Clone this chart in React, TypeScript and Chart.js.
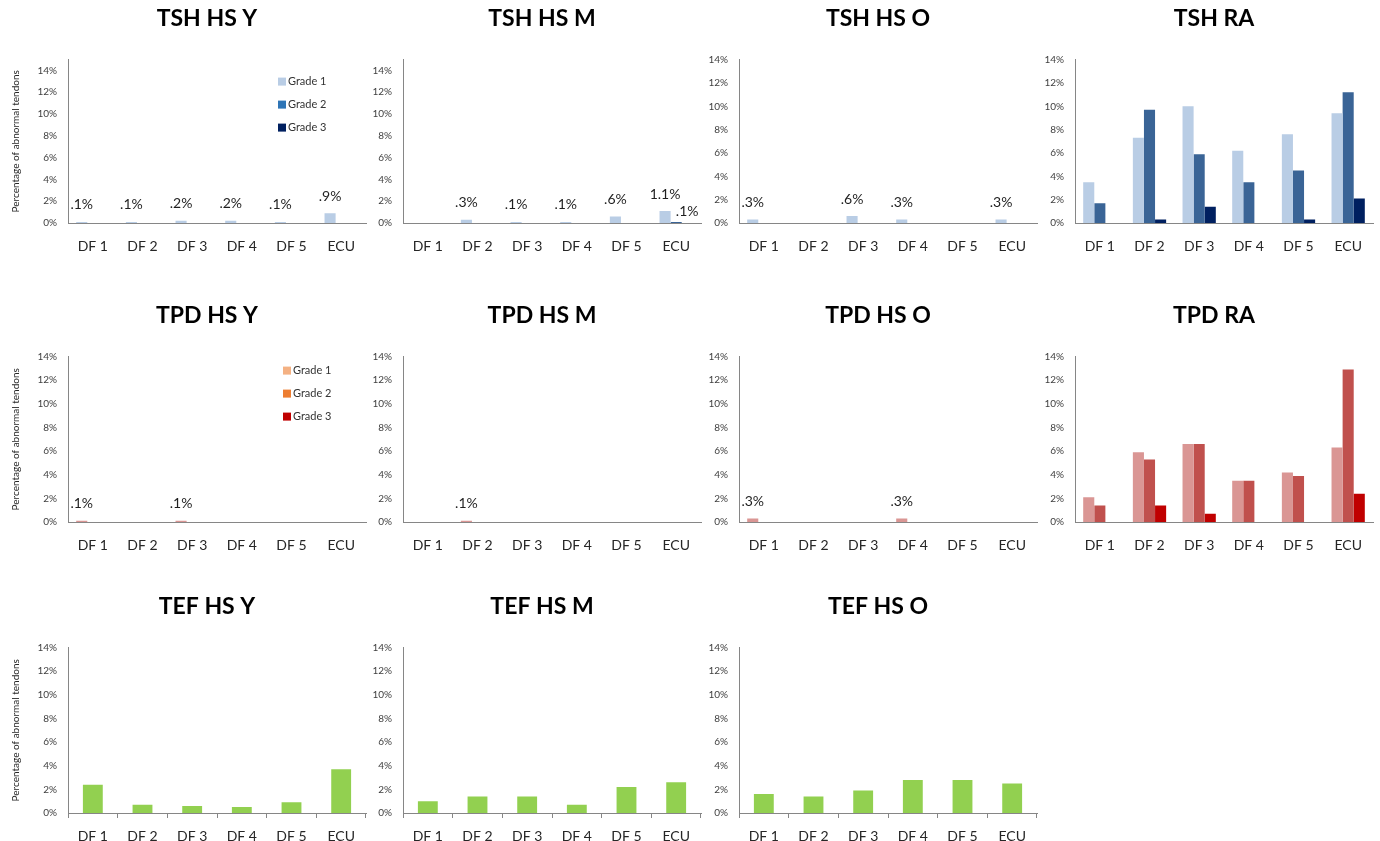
import React, { useEffect, useRef } from 'react';
import { Chart, registerables } from 'chart.js';

Chart.register(...registerables);
Chart.defaults.font.family = 'Lato, "Open Sans", sans-serif';

// ---------- data ----------
const categories = ['DF 1', 'DF 2', 'DF 3', 'DF 4', 'DF 5', 'ECU'];
const gradeLabels = ['Grade 1', 'Grade 2', 'Grade 3'];
const tefLabel = 'Abnormal';
const yTickValues = [0, 2, 4, 6, 8, 10, 12, 14];
const yAxisTitle = 'Percentage of abnormal tendons';

const titles = [
  'TSH HS Y', 'TSH HS M', 'TSH HS O', 'TSH RA',
  'TPD HS Y', 'TPD HS M', 'TPD HS O', 'TPD RA',
  'TEF HS Y', 'TEF HS M', 'TEF HS O',
];

const tshHsYGrade1 = [0.1, 0.1, 0.2, 0.2, 0.1, 0.9];
const tshHsYGrade2 = [0, 0, 0, 0, 0, 0];
const tshHsYGrade3 = [0, 0, 0, 0, 0, 0];

const tshHsMGrade1 = [0, 0.3, 0.1, 0.1, 0.6, 1.1];
const tshHsMGrade2 = [0, 0, 0, 0, 0, 0.1];
const tshHsMGrade3 = [0, 0, 0, 0, 0, 0];

const tshHsOGrade1 = [0.3, 0, 0.6, 0.3, 0, 0.3];
const tshHsOGrade2 = [0, 0, 0, 0, 0, 0];
const tshHsOGrade3 = [0, 0, 0, 0, 0, 0];

const tshRaGrade1 = [3.5, 7.3, 10.0, 6.2, 7.6, 9.4];
const tshRaGrade2 = [1.7, 9.7, 5.9, 3.5, 4.5, 11.2];
const tshRaGrade3 = [0, 0.3, 1.4, 0, 0.3, 2.1];

const tpdHsYGrade1 = [0.1, 0, 0.1, 0, 0, 0];
const tpdHsYGrade2 = [0, 0, 0, 0, 0, 0];
const tpdHsYGrade3 = [0, 0, 0, 0, 0, 0];

const tpdHsMGrade1 = [0, 0.1, 0, 0, 0, 0];
const tpdHsMGrade2 = [0, 0, 0, 0, 0, 0];
const tpdHsMGrade3 = [0, 0, 0, 0, 0, 0];

const tpdHsOGrade1 = [0.3, 0, 0, 0.3, 0, 0];
const tpdHsOGrade2 = [0, 0, 0, 0, 0, 0];
const tpdHsOGrade3 = [0, 0, 0, 0, 0, 0];

const tpdRaGrade1 = [2.1, 5.9, 6.6, 3.5, 4.2, 6.3];
const tpdRaGrade2 = [1.4, 5.3, 6.6, 3.5, 3.9, 12.9];
const tpdRaGrade3 = [0, 1.4, 0.7, 0, 0, 2.4];

const tefHsY = [2.4, 0.7, 0.6, 0.5, 0.9, 3.7];
const tefHsM = [1.0, 1.4, 1.4, 0.7, 2.2, 2.6];
const tefHsO = [1.6, 1.4, 1.9, 2.8, 2.8, 2.5];

// ---------- styles ----------
const tshBarColors = ['#B9CDE5', '#3A6496', '#002060'];
const tpdBarColors = ['#DA9694', '#C0504D', '#C00000'];
const tshLegendColors = ['#B9CDE5', '#2E75B6', '#002060'];
const tpdLegendColors = ['#F4B183', '#ED7D31', '#C00000'];
const tefColor = '#92D050';
const axisColor = '#868686';

const plotLefts = [68, 403, 739, 1075];
const rowTops = [0, 297, 588];
const rowHeights = [263, 265, 265];
const Y_AXIS_W = 68;
const PLOT_W = 298;
const CANVAS_W = 414;

type PanelDef = {
  title: string;
  row: number;
  col: number;
  series: number[][];
  colors: string[];
  yMax: number;
  showValues: boolean;
  single?: boolean;
  legend?: { x: number; y: number; colors: string[] };
  nudges?: Record<string, [number, number]>;
};

const panels: PanelDef[] = [
  { title: titles[0], row: 0, col: 0, series: [tshHsYGrade1, tshHsYGrade2, tshHsYGrade3], colors: tshBarColors, yMax: 15, showValues: true, legend: { x: 210, y: 22, colors: tshLegendColors } },
  { title: titles[1], row: 0, col: 1, series: [tshHsMGrade1, tshHsMGrade2, tshHsMGrade3], colors: tshBarColors, yMax: 15, showValues: true, nudges: { '1-5': [11, 7] } },
  { title: titles[2], row: 0, col: 2, series: [tshHsOGrade1, tshHsOGrade2, tshHsOGrade3], colors: tshBarColors, yMax: 14, showValues: true },
  { title: titles[3], row: 0, col: 3, series: [tshRaGrade1, tshRaGrade2, tshRaGrade3], colors: tshBarColors, yMax: 14, showValues: false },
  { title: titles[4], row: 1, col: 0, series: [tpdHsYGrade1, tpdHsYGrade2, tpdHsYGrade3], colors: tpdBarColors, yMax: 14, showValues: true, legend: { x: 215, y: 14, colors: tpdLegendColors } },
  { title: titles[5], row: 1, col: 1, series: [tpdHsMGrade1, tpdHsMGrade2, tpdHsMGrade3], colors: tpdBarColors, yMax: 14, showValues: true },
  { title: titles[6], row: 1, col: 2, series: [tpdHsOGrade1, tpdHsOGrade2, tpdHsOGrade3], colors: tpdBarColors, yMax: 14, showValues: true },
  { title: titles[7], row: 1, col: 3, series: [tpdRaGrade1, tpdRaGrade2, tpdRaGrade3], colors: tpdBarColors, yMax: 14, showValues: false },
  { title: titles[8], row: 2, col: 0, series: [tefHsY], colors: [tefColor], yMax: 14, showValues: false, single: true },
  { title: titles[9], row: 2, col: 1, series: [tefHsM], colors: [tefColor], yMax: 14, showValues: false, single: true },
  { title: titles[10], row: 2, col: 2, series: [tefHsO], colors: [tefColor], yMax: 14, showValues: false, single: true },
];

function fmtValue(v: number): string {
  return v.toFixed(1).replace(/^0/, '') + '%';
}

function Panel({ def }: { def: PanelDef }) {
  const ref = useRef<HTMLCanvasElement>(null);
  useEffect(() => {
    if (!ref.current) return;
    const valueLabels = {
      id: 'valueLabels',
      afterDatasetsDraw(chart: any) {
        if (!def.showValues) return;
        const ctx = chart.ctx;
        ctx.save();
        ctx.font = '14px Lato, "Open Sans", sans-serif';
        ctx.fillStyle = '#1f1f1f';
        ctx.textAlign = 'center';
        ctx.textBaseline = 'middle';
        chart.data.datasets.forEach((ds: any, di: number) => {
          const meta = chart.getDatasetMeta(di);
          meta.data.forEach((bar: any, i: number) => {
            const v = ds.data[i];
            if (!v) return;
            const n = (def.nudges && def.nudges[`${di}-${i}`]) || [0, 0];
            ctx.fillText(fmtValue(v), bar.x + n[0], bar.y - 17 + n[1]);
          });
        });
        ctx.restore();
      },
    };
    const cornerLegend = {
      id: 'cornerLegend',
      afterDraw(chart: any) {
        if (!def.legend) return;
        const ctx = chart.ctx;
        const { left, top } = chart.chartArea;
        ctx.save();
        ctx.font = '11px Lato, "Open Sans", sans-serif';
        ctx.textAlign = 'left';
        ctx.textBaseline = 'middle';
        chart.data.datasets.forEach((ds: any, i: number) => {
          const x = left + def.legend!.x;
          const y = top + def.legend!.y + i * 23;
          ctx.fillStyle = def.legend!.colors[i];
          ctx.fillRect(x, y - 4, 8, 8);
          ctx.fillStyle = '#333333';
          ctx.fillText(ds.label, x + 10, y);
        });
        ctx.restore();
      },
    };
    const datasets = def.series.map((data, i) => ({
      label: def.single ? tefLabel : gradeLabels[i],
      data,
      backgroundColor: def.colors[i],
      borderWidth: 0,
      categoryPercentage: def.single ? 0.4 : 0.67,
      barPercentage: 1.0,
    }));
    const chart = new Chart(ref.current, {
      type: 'bar',
      data: { labels: categories, datasets },
      plugins: [valueLabels, cornerLegend],
      options: {
        animation: false,
        responsive: true,
        maintainAspectRatio: false,
        layout: { padding: 0 },
        plugins: {
          legend: { display: false },
          tooltip: { enabled: false },
          title: {
            display: true,
            text: def.title,
            color: '#000000',
            font: { size: 23, weight: 'bold' },
            padding: { top: 5, bottom: 27 },
          },
        },
        scales: {
          x: {
            grid: {
              display: true,
              drawOnChartArea: false,
              drawTicks: true,
              tickLength: 5,
              offset: true,
              color: def.single ? axisColor : 'rgba(0,0,0,0)',
            },
            border: { display: true, color: axisColor, width: 1 },
            ticks: {
              color: '#262626',
              font: { size: 14 },
              padding: 10,
              maxRotation: 0,
              autoSkip: false,
            },
            afterFit: (s: any) => { s.height = 40; },
          },
          y: {
            min: 0,
            max: def.yMax,
            afterBuildTicks: (s: any) => { s.ticks = yTickValues.map((v) => ({ value: v })); },
            afterFit: (s: any) => { s.width = Y_AXIS_W; },
            grid: { display: false, drawTicks: false },
            border: { display: true, color: axisColor, width: 1 },
            ticks: {
              color: '#404040',
              font: { size: 10 },
              padding: 11,
              callback: (v: any) => v + '%',
            },
            title: {
              display: def.col === 0,
              text: yAxisTitle,
              color: '#262626',
              font: { size: 10 },
              padding: { top: 10, bottom: 0 },
            },
          },
          // empty spacer on the right so the title stays centred on the whole panel
          spacer: {
            type: 'linear',
            position: 'right',
            display: true,
            grid: { display: false, drawTicks: false },
            border: { display: false },
            ticks: { display: false },
            afterFit: (s: any) => { s.width = CANVAS_W - Y_AXIS_W - PLOT_W; },
          },
        },
      } as any,
    });
    return () => chart.destroy();
  }, [def]);

  const left = plotLefts[def.col] - Y_AXIS_W;
  const top = rowTops[def.row];
  return (
    <div style={{ position: 'absolute', left, top, width: CANVAS_W, height: rowHeights[def.row] }}>
      <canvas ref={ref} />
    </div>
  );
}

export default function App() {
  return (
    <div
      style={{
        position: 'absolute',
        left: 0,
        top: 0,
        width: 1380,
        height: 841,
        overflow: 'hidden',
        background: '#ffffff',
      }}
    >
      {panels.map((p) => (
        <Panel key={p.title} def={p} />
      ))}
    </div>
  );
}
